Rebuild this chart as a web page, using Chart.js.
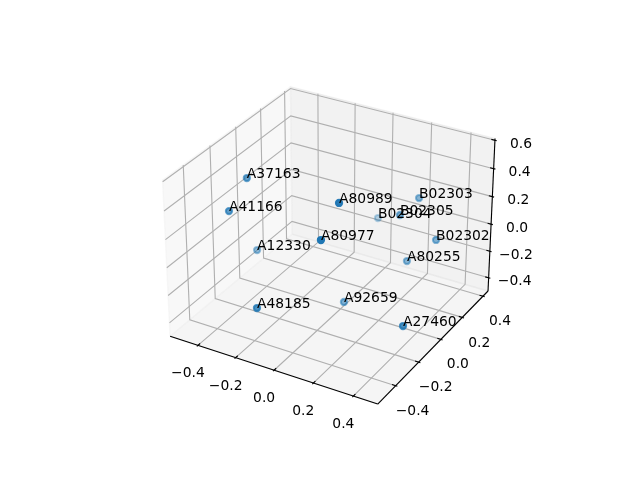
<!DOCTYPE html>
<html>
<head>
<meta charset="utf-8">
<style>
  html, body { margin: 0; padding: 0; background: #fff; }
  canvas { display: block; }
</style>
<script src="https://cdn.jsdelivr.net/npm/chart.js@4"></script>
</head>
<body>
<canvas id="chart" width="640" height="480"></canvas>
<script>
const names = ["A37163", "A41166", "A12330", "A48185", "A80989", "A80977", "B02303", "B02305", "B02304", "B02302", "A80255", "A92659", "A27460"];
const xValues = [-0.414, -0.416, -0.414, -0.142, 0.141, 0.141, 0.204, 0.173, -0.045, 0.330, 0.228, 0.051, 0.435];
const yValues = [-0.120, -0.261, -0.052, -0.462, -0.246, -0.391, 0.343, 0.225, 0.404, 0.282, 0.200, -0.055, -0.194];
const zValues = [0.379, 0.243, -0.193, -0.185, 0.504, 0.356, 0.145, 0.094, -0.143, -0.068, -0.203, -0.383, -0.280];

const xTicks = [-0.4, -0.2, 0.0, 0.2, 0.4];
const yTicks = [-0.4, -0.2, 0.0, 0.2, 0.4];
const zTicks = [-0.4, -0.2, 0.0, 0.2, 0.4, 0.6];
const xTickLabels = ["\u22120.4", "\u22120.2", "0.0", "0.2", "0.4"];
const yTickLabels = ["\u22120.4", "\u22120.2", "0.0", "0.2", "0.4"];
const zTickLabels = ["\u22120.4", "\u22120.2", "0.0", "0.2", "0.4", "0.6"];

const xLim = [-0.55, 0.52];
const yLim = [-0.55, 0.45];
const zLim = [-0.5, 0.612];

// same camera as a default mplot3d axes: elev 30, azim -60, dist 10, box 4:4:3
const box = [1.19048, 1.19048, 0.89286];
const U = [0.86603, 0.5, 0];
const V = [-0.25, 0.43301, 0.86603];
const W = [0.43301, -0.75, 0.5];

function relative(x, y, z) {
    return [
        ((x - xLim[0]) / (xLim[1] - xLim[0]) - 0.5) * box[0],
        ((y - yLim[0]) / (yLim[1] - yLim[0]) - 0.5) * box[1],
        ((z - zLim[0]) / (zLim[1] - zLim[0]) - 0.5) * box[2]
    ];
}
function dot(a, b) {
    return a[0] * b[0] + a[1] * b[1] + a[2] * b[2];
}
function depth(x, y, z) {
    return dot(relative(x, y, z), W);
}
function project(x, y, z) {
    const r = relative(x, y, z);
    const s = 10 - dot(r, W);
    return { x: 332 + 1998 * dot(r, U) / s, y: 237.8 - 1995 * dot(r, V) / s };
}

const GRID = "#b0b0b0";
const datasets = [];

function addLine(points, color, width, order) {
    datasets.push({
        data: points.map(p => project(p[0], p[1], p[2])),
        showLine: true,
        borderColor: color,
        borderWidth: width,
        pointRadius: 0,
        tension: 0,
        order: order
    });
}
function addPane(points, color) {
    datasets.push({
        data: points.concat([points[0]]).map(p => project(p[0], p[1], p[2])),
        showLine: true,
        fill: "shape",
        backgroundColor: color,
        borderColor: color,
        borderWidth: 1.39,
        pointRadius: 0,
        tension: 0,
        order: 5
    });
}

const [x0, x1] = xLim, [y0, y1] = yLim, [z0, z1] = zLim;

// panes
addPane([[x0, y0, z0], [x0, y1, z0], [x0, y1, z1], [x0, y0, z1]], "rgba(242,242,242,0.5)");
addPane([[x0, y1, z0], [x1, y1, z0], [x1, y1, z1], [x0, y1, z1]], "rgba(230,230,230,0.5)");
addPane([[x0, y0, z0], [x1, y0, z0], [x1, y1, z0], [x0, y1, z0]], "rgba(236,236,236,0.5)");

// grid
xTicks.forEach(t => addLine([[t, y0, z0], [t, y1, z0], [t, y1, z1]], GRID, 1.11, 4));
yTicks.forEach(t => addLine([[x1, t, z0], [x0, t, z0], [x0, t, z1]], GRID, 1.11, 4));
zTicks.forEach(t => addLine([[x0, y0, t], [x0, y1, t], [x1, y1, t]], GRID, 1.11, 4));

// axis lines
addLine([[x0, y0, z0], [x1, y0, z0]], "#000", 1.11, 3);
addLine([[x1, y0, z0], [x1, y1, z0]], "#000", 1.11, 3);
addLine([[x1, y1, z0], [x1, y1, z1]], "#000", 1.11, 3);

// tick marks
const dx = (x1 - x0) / 12, dy = (y1 - y0) / 12;
xTicks.forEach(t => addLine([[t, y0 + 0.2 * dy, z0], [t, y0 - 0.1 * dy, z0]], "#000", 1.11, 3));
yTicks.forEach(t => addLine([[x1 - 0.2 * dx, t, z0], [x1 + 0.1 * dx, t, z0]], "#000", 1.11, 3));
zTicks.forEach(t => addLine([[x1 - 0.2 * dx, y1, t], [x1 + 0.1 * dx, y1, t]], "#000", 1.11, 3));

// points: far ones first, alpha fades with depth like depthshade
const depths = names.map((n, i) => depth(xValues[i], yValues[i], zValues[i]));
const nearest = Math.max(...depths), farthest = Math.min(...depths);
const drawOrder = names.map((n, i) => i).sort((a, b) => depths[a] - depths[b]);
const pointColors = drawOrder.map(i => {
    const alpha = 1 - (nearest - depths[i]) / (nearest - farthest) * 0.7;
    return "rgba(31,119,180," + alpha.toFixed(3) + ")";
});
datasets.push({
    data: drawOrder.map(i => project(xValues[i], yValues[i], zValues[i])),
    showLine: false,
    pointRadius: 3.1,
    pointBorderWidth: 2.08,
    pointBackgroundColor: pointColors,
    pointBorderColor: pointColors,
    order: 1
});

const textPlugin = {
    id: "textPlugin",
    afterDatasetsDraw(chart) {
        const ctx = chart.ctx;
        ctx.save();
        ctx.font = "13.89px 'DejaVu Sans'";
        ctx.fillStyle = "#000";

        ctx.textAlign = "center";
        ctx.textBaseline = "middle";
        xTicks.forEach((t, i) => {
            const p = project(t, y0, z0);
            ctx.fillText(xTickLabels[i], p.x - 10, p.y + 28.5);
        });
        yTicks.forEach((t, i) => {
            const p = project(x1, t, z0);
            ctx.fillText(yTickLabels[i], p.x + 17, p.y + 25.5);
        });
        zTicks.forEach((t, i) => {
            const p = project(x1, y1, t);
            ctx.fillText(zTickLabels[i], p.x + 26, p.y + 4);
        });

        ctx.textAlign = "left";
        ctx.textBaseline = "alphabetic";
        names.forEach((name, i) => {
            const p = project(xValues[i], yValues[i], zValues[i]);
            ctx.fillText(name, p.x, p.y);
        });
        ctx.restore();
    }
};

new Chart(document.getElementById("chart").getContext("2d"), {
    type: "scatter",
    data: { datasets: datasets },
    options: {
        responsive: false,
        animation: false,
        layout: { padding: 0, autoPadding: false },
        scales: {
            x: { type: "linear", min: 0, max: 640, display: false },
            y: { type: "linear", min: 0, max: 480, reverse: true, display: false }
        },
        plugins: { legend: { display: false }, tooltip: { enabled: false } }
    },
    plugins: [textPlugin]
});
</script>
</body>
</html>
